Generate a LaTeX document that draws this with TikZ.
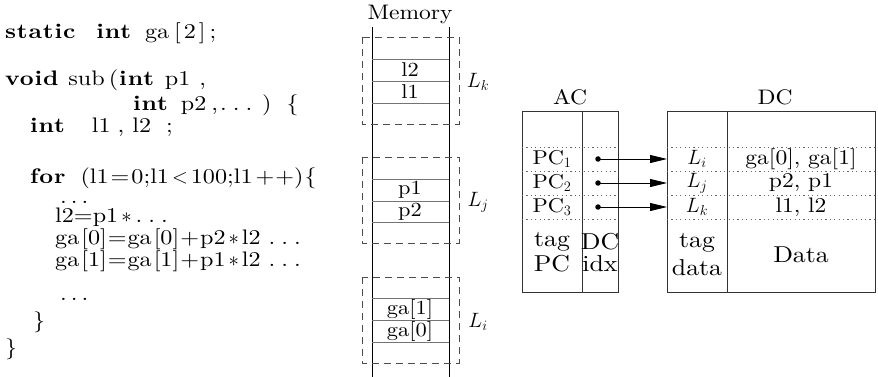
\documentclass[tikz,border=0pt]{standalone}
\usepackage{fontspec}
\usetikzlibrary{arrows.meta}
\setmainfont{lmroman10}[Extension=.otf, UprightFont=*-regular, BoldFont=*-bold, ItalicFont=*-italic, BoldItalicFont=*-bolditalic, FakeStretch=1.12]
\newfontfamily\codefont{lmroman10}[Extension=.otf, UprightFont=*-regular, BoldFont=*-bold, FakeStretch=1.15, BoldFeatures={LetterSpace=4}]
\newcommand\codesize{\fontsize{21}{24}\selectfont}
\newcommand\labsize{\fontsize{21}{25}\selectfont}
\newcommand\mathlabsize{\fontsize{22}{26}\selectfont}
\newcommand\cellsize{\fontsize{20}{24}\selectfont}
\newcommand\datasize{\fontsize{21}{24}\selectfont}
\newcommand\bigsize{\fontsize{23}{27}\selectfont}
\newcommand\hs[1]{\hspace{#1pt}}
\begin{document}
\begin{tikzpicture}[x=1pt,y=-1pt,
  code/.style={anchor=base west,inner sep=0pt,font=\codefont\codesize},
  lab/.style={inner sep=0pt,font=\labsize},
  mlab/.style={inner sep=0pt,font=\mathlabsize},
  cell/.style={inner sep=0pt,font=\cellsize},
  dcell/.style={inner sep=0pt,font=\datasize},
  big/.style={inner sep=0pt,font=\bigsize},
  cellline/.style={draw=black!55,line width=0.8pt},
  memline/.style={line width=0.8pt},
  dbox/.style={draw=black!70,line width=0.8pt,dash pattern=on 7pt off 5pt},
  dotline/.style={draw=black!60,line width=0.8pt,dash pattern=on 1.2pt off 3.2pt},
  box/.style={draw=black!80,line width=0.8pt},
  ptr/.style={circle,fill,inner sep=0pt,minimum size=5.5pt},
  arr/.style={-{Triangle[length=17pt,width=8pt]},line width=0.8pt}]
\useasboundingbox (0,0) rectangle (878,377);

% code
\node[code] (c1) at (5,39) {\textbf{static}\hs{20}\textbf{int}\hs{13}ga\hs{5}[\hs{3}2\hs{3}]\hs{4};};
\node[code] (c2) at (5,86) {\textbf{void}\hs{9}sub\hs{4}(\hs{1}\textbf{int}\hs{10}p1\hs{9},};
\node[code] (c3) at (133,111) {\textbf{int}\hs{12}p2\hs{5},\hs{2}.\hs{6}.\hs{6}.\hs{10})\hs{15}\{};
\node[code] (c4) at (30,133) {\textbf{int}\hs{26}l1\hs{7},\hs{8}l2\hs{15};};
\node[code] (c5) at (30,183) {\textbf{for}\hs{14}(l1\hs{2}=\hs{2}0;l1\hs{3}$<$\hs{3}100;l1\hs{3}+\hs{1}+)\hs{1}\{};
\node[code] (c6) at (60,203) {.\hs{4}.\hs{4}.};
\node[code] (c7) at (55,222) {l2=p1\hs{3}$\ast$\hs{4}.\hs{6}.\hs{6}.};
\node[code] (c8) at (55,244) {ga\hs{2}[0]\hs{1}=\hs{1}ga\hs{2}[0]\hs{1}+\hs{1}p2\hs{3}$\ast$\hs{3}l2\hs{8}.\hs{6}.\hs{6}.};
\node[code] (c9) at (55,266) {ga\hs{2}[1]\hs{1}=\hs{1}ga\hs{2}[1]\hs{1}+\hs{1}p1\hs{3}$\ast$\hs{3}l2\hs{8}.\hs{6}.\hs{6}.};
\node[code] (c10) at (60,300) {.\hs{4}.\hs{4}.};
\node[code] (c11) at (33,327) {\}};
\node[code] (c12) at (5,354) {\}};

% memory
\node[lab] (mem) at (410,14) {Memory};
\draw[memline] (372,27) -- (372,377);
\draw[memline] (449,27) -- (449,377);
\draw[dbox] (362,37) rectangle (459,124);
\draw[dbox] (362,157) rectangle (459,243);
\draw[dbox] (362,277) rectangle (459,363);
\foreach \y in {59,81,103,179,201,222,298,320,342}
  \draw[cellline] (372,\y) -- (449,\y);
\node[cell] (m1) at (410,70) {l2};
\node[cell] (m2) at (410,92) {l1};
\node[cell] (m3) at (410,190) {p1};
\node[cell] (m4) at (410,211.5) {p2};
\node[cell] (m5) at (410,309) {ga[1]};
\node[cell] (m6) at (410,331) {ga[0]};
\node[mlab] (lk) at (478,82) {$L_k$};
\node[mlab] (lj) at (478,202) {$L_j$};
\node[mlab] (li) at (478,322) {$L_i$};

% AC
\node[lab] (ac) at (570,97) {AC};
\draw[box] (522,111) rectangle (618,292);
\draw[box] (582,111) -- (582,292);
% DC
\node[lab] (dc) at (775,97) {DC};
\draw[box] (667,111) rectangle (875,292);
\draw[box] (727,111) -- (727,292);
\foreach \y in {147,171,195,219}{
  \draw[dotline] (522,\y) -- (618,\y);
  \draw[dotline] (667,\y) -- (875,\y);
}
\node[cell] (pc1) at (552,159) {PC$_1$};
\node[cell] (pc2) at (552,183) {PC$_2$};
\node[cell] (pc3) at (552,207) {PC$_3$};
\node[ptr] (d1) at (598,159) {};
\node[ptr] (d2) at (598,183) {};
\node[ptr] (d3) at (598,207) {};
\coordinate (e1) at (667,159);
\coordinate (e2) at (667,183);
\coordinate (e3) at (667,207);
\draw[arr] (d1.center) -- (e1);
\draw[arr] (d2.center) -- (e2);
\draw[arr] (d3.center) -- (e3);
\node[mlab] (t1) at (697,159) {$L_i$};
\node[mlab] (t2) at (697,183) {$L_j$};
\node[mlab] (t3) at (697,207) {$L_k$};
\node[dcell] (v1) at (801,159) {ga[0], ga[1]};
\node[dcell] (v2) at (801,183) {p2, p1};
\node[dcell] (v3) at (801,207) {l1, l2};
\node[big] (tag1) at (552,242) {tag};
\node[big] (pc) at (552,264) {PC};
\node[big] (dcx) at (600,242) {DC};
\node[big] (idx) at (600,264) {idx};
\node[big] (tag2) at (697,243) {tag};
\node[big] (dat) at (697,268) {data};
\node[big] (data) at (801,255) {Data};
\end{tikzpicture}
\end{document}
